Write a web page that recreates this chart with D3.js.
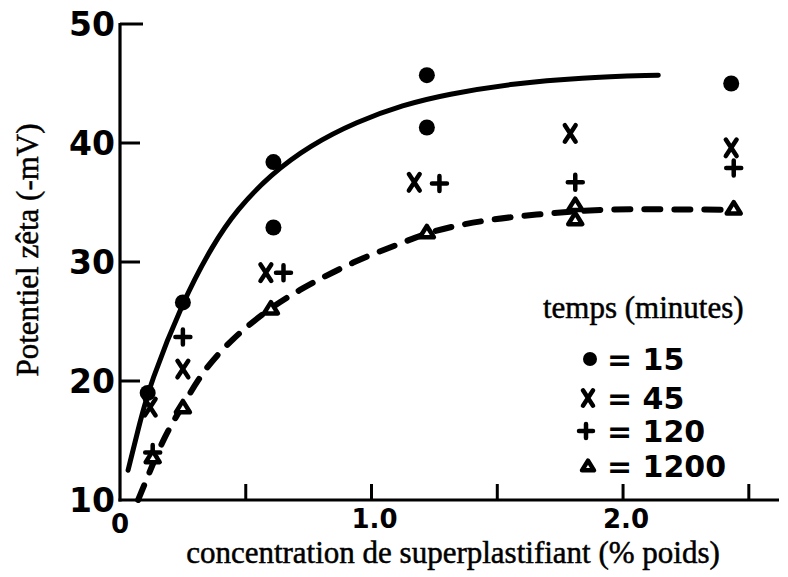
<!DOCTYPE html>
<html><head><meta charset="utf-8">
<script src="https://cdn.jsdelivr.net/npm/d3@7/dist/d3.min.js"></script>
<style>html,body{margin:0;padding:0;background:#fff;}svg{display:block;}</style>
</head><body>
<svg id="chart" width="788" height="577"></svg>
<script>
// ---- data ----
const xTicks = [0.5, 1.0, 1.5, 2.0, 2.5];
const xTickLabels = [[0, "0"], [1.0, "1.0"], [2.0, "2.0"]];
const yTicks = [20, 30, 40, 50];
const yTickLabels = ["10", "20", "30", "40", "50"];
const legendTimes = ["15", "45", "120", "1200"];

// time = 15 min (circles)
const series15 = [[0.11,19.0],[0.25,26.6],[0.61,38.4],[0.61,32.9],[1.22,45.7],[1.22,41.3],[2.43,45.0]];
// time = 45 min (x)
const series45 = [[0.12,17.8],[0.25,21.0],[0.58,29.1],[1.17,36.7],[1.79,40.8],[2.43,39.6]];
// time = 120 min (+)
const series120 = [[0.13,14.0],[0.25,23.7],[0.65,29.1],[1.27,36.6],[1.81,36.7],[2.44,37.9]];
// time = 1200 min (triangles)
const series1200 = [[0.13,13.6],[0.25,17.8],[0.60,26.1],[1.22,32.5],[1.81,34.8],[1.81,33.6],[2.44,34.5]];

// fitted curves (traced)
const curveSolid = [[0.032,12.5],[0.080,16.6],[0.119,19.7],[0.247,26.6],[0.370,31.5],[0.465,34.4],[0.596,37.3],[0.755,39.8],[0.942,41.8],[1.125,43.2],[1.30,44.1],[1.563,45.0],[1.83,45.5],[2.14,45.7]];
const curveDashed = [[0.072,10.0],[0.107,11.8],[0.179,15.5],[0.247,17.8],[0.33,20.9],[0.449,23.6],[0.569,25.7],[0.696,27.5],[0.942,30.2],[1.10,31.4],[1.22,32.5],[1.43,33.5],[1.70,34.1],[1.96,34.5],[2.23,34.4],[2.43,34.4]];

// ---- drawing ----
const svg = d3.select("#chart");
const x = d3.scaleLinear().domain([0, 2.62]).range([120, 779]);
const y = d3.scaleLinear().domain([10, 50]).range([500, 24]);
const ink = "#000";

// axes
const g = svg.append("g");
g.append("line").attr("x1", x(0)).attr("x2", x(0)).attr("y1", y(50) - 1).attr("y2", y(10) + 1.5)
  .attr("stroke", ink).attr("stroke-width", 3.2);
g.append("line").attr("x1", x(0) - 1.5).attr("x2", x(2.62)).attr("y1", y(10)).attr("y2", y(10))
  .attr("stroke", ink).attr("stroke-width", 3.2);

g.selectAll(".ytick").data(yTicks).enter().append("line")
  .attr("x1", x(0)).attr("x2", d => x(0) + (d === 50 ? 23 : 20))
  .attr("y1", d => y(d)).attr("y2", d => y(d))
  .attr("stroke", ink).attr("stroke-width", 3);
g.selectAll(".xtick").data(xTicks).enter().append("line")
  .attr("x1", d => x(d)).attr("x2", d => x(d))
  .attr("y1", y(10)).attr("y2", y(10) - 16)
  .attr("stroke", ink).attr("stroke-width", 3);

const sans = "'DejaVu Sans', sans-serif";
const serif = "'Liberation Serif', 'Times New Roman', serif";

g.selectAll(".ylab").data(yTickLabels).enter().append("text")
  .attr("x", x(0) - 5).attr("y", d => y(+d) + 12)
  .attr("text-anchor", "end").attr("font-family", sans).attr("font-weight", "bold")
  .attr("font-size", 33).text(d => d);

g.selectAll(".xlab").data(xTickLabels).enter().append("text")
  .attr("x", d => x(d[0]) + (d[0] === 0 ? 0 : 3)).attr("y", d => d[0] === 0 ? 533 : 528)
  .attr("text-anchor", "middle").attr("font-family", sans).attr("font-weight", "bold")
  .attr("font-size", 26).text(d => d[1]);

svg.append("text").attr("x", 453).attr("y", 563).attr("text-anchor", "middle")
  .attr("font-family", serif).attr("font-size", 31)
  .attr("stroke", ink).attr("stroke-width", 0.5)
  .text("concentration de superplastifiant (% poids)");
svg.append("text").attr("transform", "translate(38,250) rotate(-90)").attr("text-anchor", "middle")
  .attr("font-family", serif).attr("font-size", 31)
  .attr("stroke", ink).attr("stroke-width", 0.5)
  .text("Potentiel zêta (-mV)");

// curves
const line = d3.line().x(d => x(d[0])).y(d => y(d[1])).curve(d3.curveBasis);
svg.append("path").attr("d", line(curveSolid)).attr("fill", "none")
  .attr("stroke", ink).attr("stroke-width", 5).attr("stroke-linecap", "round");
svg.append("path").attr("d", line(curveDashed)).attr("fill", "none")
  .attr("stroke", ink).attr("stroke-width", 6).attr("stroke-linecap", "round")
  .attr("stroke-dasharray", "16 14");

// markers
function drawCircle(sel, cx, cy, r) {
  sel.append("circle").attr("cx", cx).attr("cy", cy).attr("r", r).attr("fill", ink);
}
function drawX(sel, cx, cy, s) {
  const w = s * 0.36, h = s * 0.55;
  sel.append("path").attr("d", `M${cx-w},${cy-h}L${cx+w},${cy+h}M${cx+w},${cy-h}L${cx-w},${cy+h}`)
    .attr("stroke", ink).attr("stroke-width", 4.5).attr("stroke-linecap", "round").attr("fill", "none");
}
function drawPlus(sel, cx, cy, s) {
  const h = s * 0.5;
  sel.append("path").attr("d", `M${cx-h},${cy}L${cx+h},${cy}M${cx},${cy-h}L${cx},${cy+h}`)
    .attr("stroke", ink).attr("stroke-width", 4.5).attr("stroke-linecap", "round").attr("fill", "none");
}
function drawTri(sel, cx, cy, s) {
  const h = s * 0.45, w = s * 0.5;
  sel.append("path").attr("d", `M${cx},${cy-h}L${cx+w},${cy+h*0.8}L${cx-w},${cy+h*0.8}Z`)
    .attr("stroke", ink).attr("stroke-width", 4.5).attr("stroke-linejoin", "round").attr("fill", "#fff");
}
const m = svg.append("g");
series15.forEach(d => drawCircle(m, x(d[0]), y(d[1]), 8));
series45.forEach(d => drawX(m, x(d[0]), y(d[1]), 15));
series120.forEach(d => drawPlus(m, x(d[0]), y(d[1]), 15));
series1200.forEach(d => drawTri(m, x(d[0]), y(d[1]), 14));

// legend
const lg = svg.append("g");
lg.append("text").attr("x", 543).attr("y", 318).attr("font-family", serif).attr("font-size", 31)
  .attr("stroke", ink).attr("stroke-width", 0.5)
  .text("temps (minutes)");
const legendY = [370, 409, 442, 477];
const drawers = [
  (cy) => drawCircle(lg, 590, cy, 7),
  (cy) => drawX(lg, 588, cy, 14),
  (cy) => drawPlus(lg, 586, cy, 14),
  (cy) => drawTri(lg, 588, cy, 12)
];
legendTimes.forEach((t, i) => {
  drawers[i](legendY[i] - 11);
  lg.append("text").attr("x", 607).attr("y", legendY[i]).attr("font-family", sans)
    .attr("font-weight", "bold").attr("font-size", 30).text("= " + t);
});
</script>
</body></html>
